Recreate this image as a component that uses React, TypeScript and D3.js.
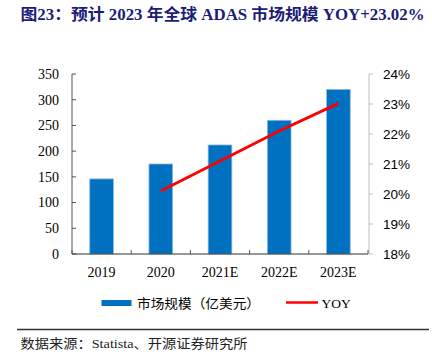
import React from 'react';
import * as d3 from 'd3';

const categories = ['2019', '2020', '2021E', '2022E', '2023E'];
const marketSize = [146, 175, 212, 260, 320];
const yoyValues: (number | null)[] = [null, 20.1, 21.1, 22.1, 23.02];
const leftTicks = [0, 50, 100, 150, 200, 250, 300, 350];
const rightTicks = [18, 19, 20, 21, 22, 23, 24];
const titleText = '图23：预计 2023 年全球 ADAS 市场规模 YOY+23.02%';
const legendBar = '市场规模（亿美元）';
const legendLine = 'YOY';
const sourceText = '数据来源：Statista、开源证券研究所';

const W = 432;
const H = 356;
const L = 72;
const R = 368;
const T = 74;
const B = 254;

export default function App() {
  const x = d3.scaleBand<string>().domain(categories).range([L, R]).paddingInner(0.6).paddingOuter(0.3);
  const yL = d3.scaleLinear().domain([0, 350]).range([B, T]);
  const yR = d3.scaleLinear().domain([18, 24]).range([B, T]);
  const step = x.step();
  const cx = (c: string) => (x(c) as number) + x.bandwidth() / 2;

  const pts = categories.map((c, i) => ({ c, v: yoyValues[i] }));
  const line = d3
    .line<{ c: string; v: number | null }>()
    .defined((d) => d.v != null)
    .x((d) => cx(d.c))
    .y((d) => yR(d.v as number));

  const serif = '"Liberation Serif", "Times New Roman", serif';
  const cjkSerif = '"Liberation Serif", "Noto Sans CJK SC", serif';

  const boundaries = d3.range(categories.length + 1).map((i) => L + i * step);

  return (
    <svg width={W} height={H} style={{ position: 'absolute', left: 0, top: 0, background: '#fff' }}>
      <rect x={0} y={0} width={W} height={H} fill="#fff" />
      <text x={20.5} y={20} fontSize={16} fontWeight="bold" fill="#1c1c78" fontFamily={cjkSerif} textLength={404} lengthAdjust="spacingAndGlyphs">
        {titleText}
      </text>

      {/* bars */}
      {categories.map((c, i) => (
        <rect
          key={c}
          x={x(c)}
          y={yL(marketSize[i])}
          width={x.bandwidth()}
          height={B - yL(marketSize[i])}
          fill="#0070C0"
          stroke="#8db8e0"
          strokeWidth={0.8}
        />
      ))}

      {/* left axis */}
      <line x1={L} x2={L} y1={T} y2={B} stroke="#555" strokeWidth={1} />
      {leftTicks.map((t) => (
        <g key={t}>
          <line x1={L} x2={L + 4} y1={yL(t)} y2={yL(t)} stroke="#555" />
          <text x={59} y={yL(t)} dy="0.35em" textAnchor="end" fontSize={14} fontFamily={serif} fill="#000">
            {t}
          </text>
        </g>
      ))}

      {/* right axis */}
      <line x1={R + 1} x2={R + 1} y1={T} y2={B} stroke="#bfbfbf" strokeWidth={1} />
      {rightTicks.map((t) => (
        <g key={t}>
          <line x1={R + 1} x2={R + 5} y1={yR(t)} y2={yR(t)} stroke="#bfbfbf" />
          <text x={383} y={yR(t)} dy="0.35em" fontSize={13.5} fontFamily='"Liberation Sans", Arial, sans-serif' fill="#000">
            {t}%
          </text>
        </g>
      ))}

      {/* bottom axis */}
      <line x1={L} x2={R} y1={B} y2={B} stroke="#333" strokeWidth={1.2} />
      {boundaries.map((b, i) => (
        <line key={i} x1={b} x2={b} y1={B} y2={B - 4} stroke="#555" />
      ))}
      {categories.map((c) => (
        <text key={c} x={cx(c)} y={272} dy="0.35em" textAnchor="middle" fontSize={14} fontFamily={serif} fill="#000">
          {c}
        </text>
      ))}

      {/* yoy line */}
      <path d={line(pts) || ''} fill="none" stroke="#FF0000" strokeWidth={3} />

      {/* legend */}
      <rect x={101.5} y={300} width={30} height={6} fill="#0070C0" />
      <text x={137} y={303} dy="0.35em" fontSize={13} fontFamily={cjkSerif} fill="#000" textLength={123} lengthAdjust="spacingAndGlyphs">
        {legendBar}
      </text>
      <line x1={286} x2={318} y1={302.5} y2={302.5} stroke="#FF0000" strokeWidth={2.5} />
      <text x={321.5} y={303} dy="0.35em" fontSize={13.5} fontFamily={serif} fill="#000">
        {legendLine}
      </text>

      {/* separator and source */}
      <line x1={17} x2={429} y1={329.5} y2={329.5} stroke="#333" strokeWidth={1.5} />
      <text x={20.5} y={343} dy="0.35em" fontSize={13} fontFamily={cjkSerif} fill="#222" textLength={227} lengthAdjust="spacingAndGlyphs">
        {sourceText}
      </text>
    </svg>
  );
}
